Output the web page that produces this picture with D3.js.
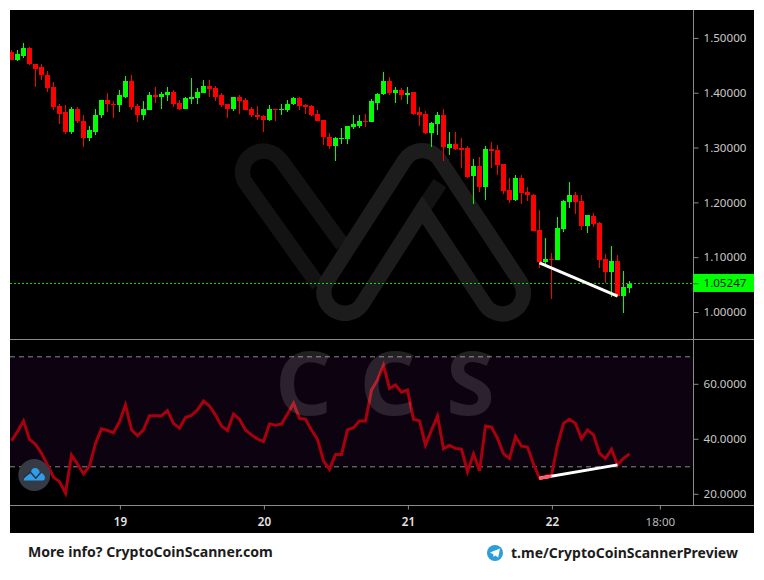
<!DOCTYPE html>
<html><head><meta charset="utf-8">
<script src="https://cdnjs.cloudflare.com/ajax/libs/d3/7.8.5/d3.min.js"></script>
<style>html,body{margin:0;padding:0;background:#fff}svg{display:block}text{font-family:"Noto Sans",sans-serif}</style>
</head><body><svg id="c" width="764" height="580"></svg>
<script>
const opens=[1.4745,1.460,1.467,1.482,1.454,1.447,1.434,1.411,1.376,1.365,1.330,1.372,1.350,1.319,1.330,1.360,1.387,1.381,1.378,1.394,1.423,1.376,1.361,1.369,1.396,1.394,1.396,1.403,1.383,1.372,1.389,1.392,1.400,1.414,1.409,1.396,1.380,1.372,
1.394,1.387,1.372,1.361,1.358,1.352,1.3705,1.369,1.369,1.380,1.392,1.378,1.376,1.363,1.352,1.321,1.303,1.316,1.316,1.339,1.341,1.350,1.347,1.383,1.398,1.422,1.400,1.405,1.396,1.402,1.365,1.363,1.327,1.343,1.361,1.2994,1.3067,1.2994,1.2993,
1.2482,1.2664,1.2281,1.2974,1.2956,1.270,1.2227,1.2044,1.2445,1.219,1.2135,1.1497,1.0913,1.0968,1.095,1.1515,1.2008,1.2135,1.2026,1.157,1.1752,1.1625,1.0968,1.0731,1.0932,1.0293,1.0439];
const highs=[1.4781,1.478,1.491,1.484,1.454,1.454,1.440,1.420,1.380,1.378,1.374,1.374,1.361,1.341,1.372,1.387,1.400,1.385,1.405,1.431,1.4325,1.381,1.385,1.4015,1.411,1.4015,1.411,1.405,1.387,1.394,1.427,1.409,1.425,1.425,1.4125,1.400,1.380,1.394,
1.396,1.3906,1.374,1.376,1.361,1.378,1.372,1.381,1.387,1.394,1.394,1.381,1.378,1.369,1.352,1.327,1.3195,1.336,1.341,1.361,1.360,1.363,1.389,1.400,1.438,1.429,1.412,1.409,1.411,1.403,1.374,1.367,1.347,1.365,1.3705,1.3286,1.3286,1.3176,1.303,
1.2792,1.2829,1.3029,1.3102,1.3047,1.270,1.2445,1.250,1.250,1.2281,1.2154,1.1862,1.1351,1.1077,1.1734,1.2044,1.2373,1.219,1.2135,1.1771,1.1807,1.1643,1.1059,1.1205,1.1041,1.0749,1.0567];
const lows=[1.4599,1.458,1.4635,1.451,1.411,1.425,1.4015,1.369,1.343,1.325,1.325,1.345,1.301,1.312,1.323,1.354,1.365,1.354,1.365,1.391,1.369,1.347,1.352,1.369,1.383,1.3705,1.385,1.374,1.369,1.372,1.381,1.381,1.400,1.394,1.385,1.374,1.354,1.367,
1.363,1.369,1.356,1.352,1.330,1.349,1.349,1.360,1.365,1.378,1.369,1.363,1.358,1.349,1.305,1.298,1.277,1.308,1.307,1.334,1.336,1.339,1.347,1.369,1.396,1.396,1.383,1.387,1.380,1.361,1.341,1.325,1.301,1.323,1.277,1.2866,1.2957,1.263,1.2446,
1.1971,1.219,1.2044,1.2628,1.250,1.2154,1.1989,1.2026,1.1971,1.2026,1.1479,1.0804,1.0859,1.0238,1.095,1.1461,1.1898,1.1789,1.1497,1.1442,1.1552,1.0804,1.053,1.0275,1.0275,0.9983,1.0348];
const closes=[1.4599,1.471,1.482,1.453,1.445,1.4325,1.409,1.374,1.363,1.330,1.372,1.349,1.319,1.332,1.361,1.387,1.381,1.378,1.396,1.423,1.374,1.361,1.3705,1.396,1.394,1.398,1.403,1.381,1.372,1.391,1.394,1.4015,1.414,1.407,1.394,1.378,1.372,1.394,
1.385,1.369,1.360,1.356,1.352,1.3705,1.369,1.372,1.381,1.392,1.376,1.374,1.361,1.350,1.3195,1.303,1.318,1.318,1.341,1.343,1.350,1.347,1.385,1.398,1.422,1.400,1.405,1.396,1.400,1.363,1.361,1.327,1.345,1.361,1.301,1.3067,1.2976,1.2957,1.2464,
1.2664,1.2281,1.2974,1.2938,1.2683,1.2208,1.2044,1.2445,1.2172,1.2135,1.1479,1.0913,1.0968,1.095,1.1533,1.2026,1.2135,1.2008,1.157,1.1771,1.1606,1.095,1.0731,1.0932,1.0293,1.0457,1.05247];
const rsiValues=[39.5,42.8,46.7,40.0,38.2,34.9,30.7,26.2,24.6,20.4,34.3,31.0,27.4,30.3,38.5,43.8,43.2,42.4,46.4,52.5,43.4,41.3,43.4,48.6,48.6,48.6,50.4,45.8,44.0,47.9,48.7,50.7,53.9,52.1,48.8,44.8,43.2,49.2,47.3,43.4,
41.6,40.1,39.2,45.6,45.1,45.6,49.2,53.1,47.6,47.3,43.4,40.0,32.2,29.1,34.5,34.5,43.4,44.2,46.7,46.7,57.9,61.6,66.9,58.5,59.8,57.1,57.9,47.3,46.7,37.9,43.4,48.5,36.6,37.8,36.7,36.4,28.2,34.7,28.5,44.8,44.4,
40.4,34.7,33.0,41.0,37.5,37.2,31.0,25.9,26.7,27.0,37.9,45.8,47.3,45.8,40.2,43.4,41.6,34.9,33.0,36.4,30.7,33.1,34.7];
const priceTicks=[1.0,1.1,1.2,1.3,1.4,1.5];
const rsiTicks=[20,40,60];
const rsiBands=[30,70];
const lastPrice=1.05247;
const timeTickHours=[18.15,42.15,66.15,90.15,108.15];
const timeTickLabels=["19","20","21","22","18:00"];
const priceTrendHours=[88,101], priceTrendValues=[1.0907,1.0297];
const rsiTrendHours=[88,101], rsiTrendValues=[25.8,30.7];

const svg=d3.select("#c");
const L=10,R=754,T=10,B=533,AX=693.5,SEP=339.5,XA=505.5;
const x=d3.scaleLinear().domain([0,108]).range([11.5,659.5]);
const y=d3.scaleLinear().domain([1,1.5]).range([312.5,38.4]);
const yr=d3.scaleLinear().domain([20,60]).range([494.3,384.3]);
svg.append("rect").attr("x",L).attr("y",T).attr("width",R-L).attr("height",B-T).attr("fill","#000");
const defs=svg.append("defs");
defs.append("clipPath").attr("id","cp").append("rect").attr("x",L).attr("y",T).attr("width",AX-L).attr("height",SEP-T);
defs.append("clipPath").attr("id","cr").append("rect").attr("x",L).attr("y",SEP).attr("width",AX-L).attr("height",XA-SEP);

// RSI band
const gr=svg.append("g").attr("clip-path","url(#cr)");
gr.append("rect").attr("x",L).attr("width",AX-L).attr("y",yr(rsiBands[1])).attr("height",yr(rsiBands[0])-yr(rsiBands[1])).attr("fill","#0d0210");
svg.append("text").attr("x",400).attr("y",415).attr("text-anchor","middle").attr("font-size",88).attr("font-weight",700).attr("letter-spacing",30).attr("fill","#fff").attr("fill-opacity",0.13).text("CCS");
gr.selectAll("line.b").data(rsiBands).join("line").attr("x1",L).attr("x2",AX).attr("y1",d=>yr(d)).attr("y2",d=>yr(d)).attr("stroke","#8a878a").attr("stroke-width",1).attr("stroke-dasharray","5 4");

// logo watermark
const wm=svg.append("g").attr("fill","none").attr("stroke-width",15.3);
wm.append("path").attr("d","M318.3 285L245.8 183.3A21 21 0 0 1 280.8 160.1L342.7 245").attr("stroke","#131313");
wm.append("path").attr("d","M422.3 210L440 183.1").attr("stroke","#131313");
wm.append("path").attr("d","M326.3 282.3L404.6 160.3A21 21 0 0 1 439.8 160.1L520.2 281.7A21 21 0 0 1 485.2 304.9L422.3 209.8L361.7 304.7A21 21 0 0 1 326.3 282.3Z").attr("stroke","#1c1c1c");

// last price line
svg.append("line").attr("x1",L).attr("x2",AX).attr("y1",Math.floor(y(lastPrice))+.5).attr("y2",Math.floor(y(lastPrice))+.5).attr("stroke","#00e000").attr("stroke-dasharray","2 2").attr("stroke-width",1).attr("shape-rendering","crispEdges");

// candles
const idx=d3.range(closes.length);
const gp=svg.append("g").attr("clip-path","url(#cp)").attr("shape-rendering","crispEdges");
const col=i=>closes[i]>=opens[i]?"#00ff00":"#ff0000";
gp.selectAll("line.w").data(idx).join("line").attr("x1",i=>x(i)).attr("x2",i=>x(i)).attr("y1",i=>y(highs[i])).attr("y2",i=>y(lows[i])).attr("stroke",col).attr("stroke-width",1);
gp.selectAll("rect.c").data(idx).join("rect").attr("x",i=>x(i)-2.5).attr("width",5).attr("y",i=>y(Math.max(opens[i],closes[i]))).attr("height",i=>Math.max(1,Math.abs(y(opens[i])-y(closes[i])))).attr("fill",col);

// trend lines
svg.append("line").attr("x1",x(priceTrendHours[0])).attr("y1",y(priceTrendValues[0])).attr("x2",x(priceTrendHours[1])).attr("y2",y(priceTrendValues[1])).attr("stroke","#fff").attr("stroke-width",3);
// RSI
gr.append("path").attr("d",d3.line().x(i=>x(i)).y(i=>yr(rsiValues[i]))(idx)).attr("fill","none").attr("stroke","#a8000e").attr("stroke-width",3).attr("stroke-linejoin","miter");
svg.append("line").attr("x1",x(rsiTrendHours[0])).attr("y1",yr(rsiTrendValues[0])).attr("x2",x(rsiTrendHours[1])).attr("y2",yr(rsiTrendValues[1])).attr("stroke","#fff").attr("stroke-width",3);
svg.append("line").attr("x1",x(rsiTrendHours[0])).attr("y1",yr(rsiTrendValues[0])).attr("x2",x(90)).attr("y2",yr(26.6)).attr("stroke","#ff5a66").attr("stroke-width",3);

// axes
const style=(g,fs,fill)=>{g.select(".domain").remove();g.selectAll(".tick line").attr("stroke","#8a8a8a");g.selectAll(".tick text").attr("fill",fill).attr("font-size",fs).attr("font-family",'"Noto Sans",sans-serif');};
const ga=svg.append("g").attr("transform",`translate(${AX},0)`).call(d3.axisRight(y).offset(0).tickValues(priceTicks).tickFormat(d3.format(".5f")).tickSize(5).tickPadding(5));
style(ga,11.6,"#c8c8c8");
const gb=svg.append("g").attr("transform",`translate(${AX},0)`).call(d3.axisRight(yr).offset(0).tickValues(rsiTicks).tickFormat(d3.format(".4f")).tickSize(5).tickPadding(5));
style(gb,11.6,"#c8c8c8");
const gc=svg.append("g").attr("transform",`translate(0,${XA})`).call(d3.axisBottom(x).offset(0).tickValues(timeTickHours).tickFormat((d,i)=>timeTickLabels[i]).tickSize(4).tickPadding(8));
style(gc,11.6,"#c8c8c8");
gc.selectAll(".tick text").attr("font-weight",(d,i)=>i<4?600:400).attr("fill",(d,i)=>i<4?"#e4e4e4":"#b8b8b8");
const axc="#8a8a8a";
svg.append("line").attr("x1",AX).attr("x2",AX).attr("y1",T).attr("y2",XA).attr("stroke",axc);
svg.append("line").attr("x1",L).attr("x2",R).attr("y1",SEP).attr("y2",SEP).attr("stroke",axc);
svg.append("line").attr("x1",L).attr("x2",R).attr("y1",XA).attr("y2",XA).attr("stroke",axc);

// price label
svg.append("rect").attr("x",AX-.5).attr("y",y(lastPrice)-9.8).attr("width",R-AX+.5).attr("height",18).attr("fill","#00ff00");
svg.append("line").attr("x1",AX).attr("x2",AX+5).attr("y1",y(lastPrice)).attr("y2",y(lastPrice)).attr("stroke","#007a00");
svg.append("text").attr("x",AX+10).attr("y",y(lastPrice)).attr("dy","0.32em").attr("font-size",11.6).attr("fill","#0c1c0c").text(d3.format(".5f")(lastPrice));

// TV badge
const tv=svg.append("g").attr("transform","translate(34.3,475)");
tv.append("circle").attr("r",16).attr("fill","#363a45");
tv.append("path").attr("d","M-10.5 5.5Q-10.5 3 -9 1.5L-3 -3.5Q-3 -7 1 -7Q4.5 -7 5.5 -2.5Q9 -2 10.5 1.5Q11 5.5 8.5 5.5Z").attr("fill","#2f9ee8");
tv.append("path").attr("d","M-10.5 2.5L-3.8 -2.8L1.5 3.2L6.5 -2.5").attr("fill","none").attr("stroke","#2a2e3a").attr("stroke-width",1.4);

// footer
svg.append("text").attr("x",28).attr("y",557).attr("font-size",14.1).attr("font-weight",700).attr("fill","#1c1c1c").text("More info? CryptoCoinScanner.com");
svg.append("text").attr("x",511).attr("y",558).attr("font-size",14).attr("font-weight",700).attr("fill","#1c1c1c").text("t.me/CryptoCoinScannerPreview");
const tg=svg.append("g").attr("transform","translate(495,553)");
tg.append("circle").attr("r",8).attr("fill","#2a9fd8");
tg.append("path").attr("d","M-5 -0.5L5 -4.5L3.2 4.5L0.2 2.4L-1.4 3.9L-1.8 1.2Z").attr("fill","#fff");
</script></body></html>
